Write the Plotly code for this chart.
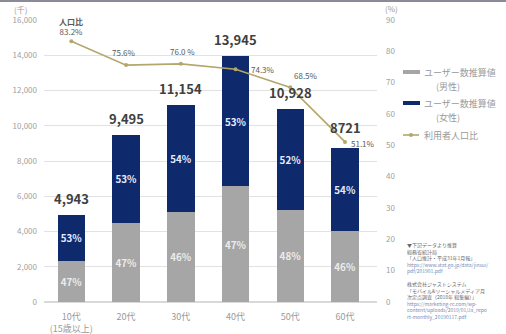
import plotly.graph_objects as go

categories = ["10代", "20代", "30代", "40代", "50代", "60代"]
tick_text = ["10代<br>(15歳以上)", "20代", "30代", "40代", "50代", "60代"]
totals = [4943, 9495, 11154, 13945, 10928, 8721]
male = [2323, 4463, 5131, 6554, 5245, 4012]
female = [2620, 5032, 6023, 7391, 5683, 4709]
male_pct = ["47%", "47%", "46%", "47%", "48%", "46%"]
female_pct = ["53%", "53%", "54%", "53%", "52%", "54%"]
ratio = [83.2, 75.6, 76.0, 74.3, 68.5, 51.1]
ratio_text = ["<b>人口比</b><br>83.2%", "75.6%", "76.0 %", "74.3%", "68.5%", "51.1%"]
total_text = ["4,943", "9,495", "11,154", "13,945", "10,928", "8721"]
legend_names = ["ユーザー数推算値", "ユーザー数推算値", "利用者人口比"]
legend_subs = ["(男性)", "(女性)", ""]

FONT = "Noto Sans CJK JP"
GRAY = "#a6a6a6"
NAVY = "#0e2a6c"
OLIVE = "#b3a76c"

# pixel -> paper helpers (plot area: x 44..377, y 20..302)
def px(x):
    return (x - 44) / 333

def py(y):
    return (302 - y) / 282

fig = go.Figure()
fig.add_trace(go.Bar(x=categories, y=male, name="ユーザー数推算値（男性）",
                     marker=dict(color=GRAY, line=dict(width=0)),
                     text=male_pct, textposition="inside", insidetextanchor="middle", textangle=0,
                     textfont=dict(color="#ececec", size=10, family=FONT, weight="bold")))
fig.add_trace(go.Bar(x=categories, y=female, name="ユーザー数推算値（女性）",
                     marker=dict(color=NAVY, line=dict(width=0)),
                     text=female_pct, textposition="inside", insidetextanchor="middle", textangle=0,
                     textfont=dict(color="#e6ecff", size=10, family=FONT, weight="bold")))
fig.add_trace(go.Scatter(x=categories, y=ratio, name="利用者人口比", yaxis="y2",
                         mode="lines+markers", line=dict(color=OLIVE, width=1.6),
                         marker=dict(size=4, color=OLIVE)))

# totals above bars
total_shift = [5, 5, 5, 5, 5, 9]
for c, t, lbl, s in zip(categories, totals, total_text, total_shift):
    fig.add_annotation(x=c, y=t, text=lbl, showarrow=False, yanchor="bottom", yshift=s,
                       font=dict(size=13, color="#404040", family=FONT, weight="bold"))

# ratio labels: (xshift, yshift, xanchor, yanchor)
offsets = [(0, 2, "center", "bottom"), (-2, 5, "center", "bottom"), (2, 5, "center", "bottom"),
           (13, 0, "left", "middle"), (2, 4, "left", "bottom"), (4, -2, "left", "middle")]
for c, r, lbl, (dx, dy, xa, ya) in zip(categories, ratio, ratio_text, offsets):
    fig.add_annotation(x=c, y=r, yref="y2", text=lbl, showarrow=False, xanchor=xa, yanchor=ya,
                       xshift=dx, yshift=dy,
                       font=dict(size=8, color="#595959", family=FONT))

# axis unit labels
fig.add_annotation(xref="paper", yref="paper", x=-0.07, y=1.0, yshift=11, yanchor="middle",
                   text="(千)", showarrow=False,
                   font=dict(size=8, color="#9a9a9a", family=FONT), xanchor="center")
fig.add_annotation(xref="paper", yref="paper", x=1.045, y=1.0, yshift=12, yanchor="middle",
                   text="(%)", showarrow=False,
                   font=dict(size=8, color="#9a9a9a", family=FONT), xanchor="center")

# custom legend
leg_y = [72, 103, 135]
sub_y = [87, 118, None]
sym_colors = [GRAY, NAVY, OLIVE]
for i in range(3):
    y = leg_y[i]
    if i < 2:
        fig.add_shape(type="rect", xref="paper", yref="paper", x0=px(403), x1=px(420),
                      y0=py(y + 2), y1=py(y - 2), fillcolor=sym_colors[i], line=dict(width=0))
    else:
        fig.add_shape(type="line", xref="paper", yref="paper", x0=px(403), x1=px(419),
                      y0=py(y), y1=py(y), line=dict(color=OLIVE, width=1.6))
        fig.add_shape(type="circle", xref="paper", yref="paper", x0=px(409), x1=px(413),
                      y0=py(y + 2), y1=py(y - 2), fillcolor=OLIVE, line=dict(width=0))
    fig.add_annotation(xref="paper", yref="paper", x=px(422), y=py(y), text=legend_names[i],
                       showarrow=False, xanchor="left", yanchor="middle",
                       font=dict(size=9, color="#9a9a9a", family=FONT))
    if sub_y[i] is not None:
        fig.add_annotation(xref="paper", yref="paper", x=px(434), y=py(sub_y[i]), text=legend_subs[i],
                           showarrow=False, xanchor="left", yanchor="middle",
                           font=dict(size=9, color="#9a9a9a", family=FONT))

source = ("▼下記データより推算<br>総務省統計局<br>「人口推計・平成31年1月報」<br>"
          "<span style='color:#7a8cb5'>https://www.stat.go.jp/data/jinsui/<br>pdf/201901.pdf</span><br><br>"
          "株式会社ジャストシステム<br>「モバイル&ソーシャルメディア月<br>次定点調査（2018年 総集編）」<br>"
          "<span style='color:#7a8cb5'>https://marketing-rc.com/wp-<br>content/uploads/2019/01/Ja_repo<br>rt-monthly_20190117.pdf</span>")
fig.add_annotation(xref="paper", yref="paper", x=px(405), y=py(239),
                   text=source, showarrow=False, xanchor="left", yanchor="top", align="left",
                   font=dict(size=5, color="#6a6a6a", family=FONT))

# top border band
fig.add_shape(type="rect", xref="paper", yref="paper", x0=-0.2, x1=1.6,
              y0=py(2), y1=py(-2), fillcolor="#8a8a98", line=dict(width=0),
              layer="above")

fig.update_layout(
    width=506, height=334,
    margin=dict(l=44, r=129, t=20, b=32),
    barmode="stack", bargap=0.5,
    plot_bgcolor="white", paper_bgcolor="white",
    font=dict(family=FONT, color="#9a9a9a", size=9),
    xaxis=dict(tickmode="array", tickvals=categories, ticktext=tick_text,
               tickfont=dict(size=9, color="#9a9a9a"), showline=False, ticks="", automargin=False,
               ticklabelstandoff=8),
    yaxis=dict(range=[0, 16000], tickvals=list(range(0, 16001, 2000)), tickformat=",",
               showgrid=True, gridcolor="#e2e2e2", gridwidth=1, zeroline=True, zerolinecolor="#d9d9d9",
               tickfont=dict(size=8, color="#a0a0a0"), automargin=False, ticklabelstandoff=6),
    yaxis2=dict(range=[0, 90], tickvals=list(range(0, 91, 10)), overlaying="y", side="right",
                showgrid=False, zeroline=False, tickfont=dict(size=8, color="#a0a0a0"),
                automargin=False, ticklabelstandoff=8),
    showlegend=False,
    uniformtext=dict(minsize=8, mode="show"),
)

fig.write_html("out.html")
